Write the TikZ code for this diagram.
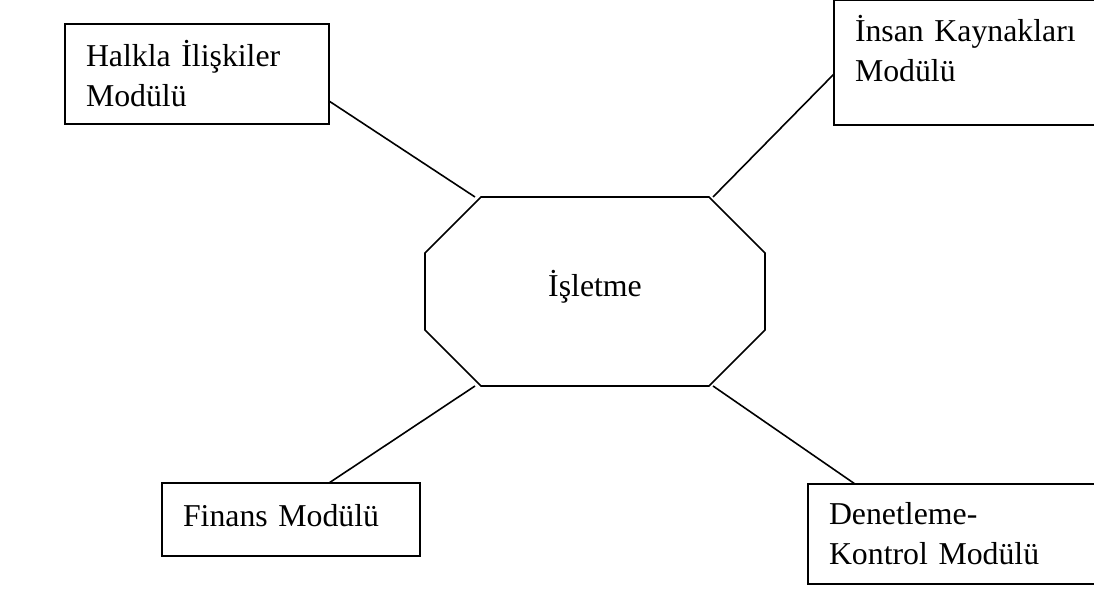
\documentclass[tikz,border=0pt]{standalone}
\usepackage{fontspec}
\setmainfont{Liberation Serif}

\begin{document}
\begin{tikzpicture}[x=0.5pt, y=-0.5pt, line width=0.8pt,
  yazi/.style={font=\fontsize{15.9}{19.75}\selectfont},
  modul/.style={draw, yazi, anchor=north west, align=left, inner xsep=10.5pt, inner ysep=0pt, outer sep=0pt},
  merkez/.style={yazi, minimum width=170pt, minimum height=94.5pt, inner sep=0pt, outer sep=0pt,
    text height=12.5pt, text depth=7.5pt}]
\useasboundingbox (0,0) rectangle (1094,608);

\path (595,291.5) node[merkez] (c0) {İşletme}
      (65,24) node[modul, text width=111pt, text height=21.5pt, text depth=28.5pt] (m1) {Halkla İlişkiler\\Modülü}
      (834,0) node[modul, text width=130pt, text height=21pt, text depth=41.5pt] (m2) {İnsan Kaynakları\\Modülü}
      (162,483) node[modul, text width=108pt, text height=22pt, text depth=14.5pt] (m3) {Finans Modülü}
      (808,484) node[modul, text width=130pt, text height=20.5pt, text depth=29.5pt] (m4) {Denetleme-\\Kontrol Modülü};

% kesik koseli cerceve
\draw ([xshift=28pt]c0.north west) -- ([xshift=-28pt]c0.north east)
   -- ([yshift=-28pt]c0.north east) -- ([yshift=28pt]c0.south east)
   -- ([xshift=-28pt]c0.south east) -- ([xshift=28pt]c0.south west)
   -- ([yshift=28pt]c0.south west) -- ([yshift=-28pt]c0.north west) -- cycle;

\draw ([yshift=11.5pt]m1.south east) -- ([xshift=25pt]c0.north west);
\draw ([yshift=-37pt]m2.north west) -- ([xshift=-26pt]c0.north east);
\draw ([xshift=83.5pt]m3.north west) -- ([xshift=25pt]c0.south west);
\draw ([xshift=23.5pt]m4.north west) -- ([xshift=-26pt]c0.south east);

\end{tikzpicture}
\end{document}
